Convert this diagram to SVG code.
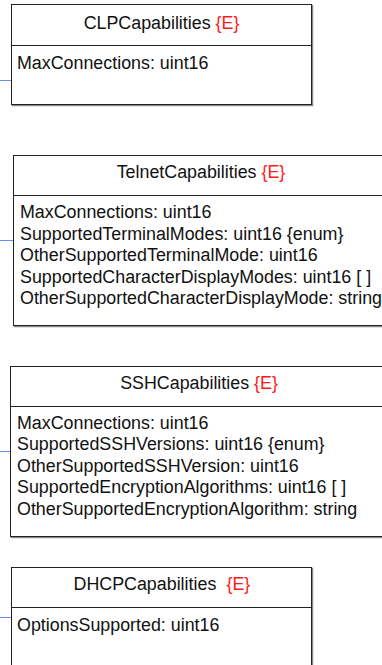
<svg xmlns="http://www.w3.org/2000/svg" width="382" height="665" viewBox="0 0 382 665">
<style>
.shadow{fill:none;stroke:#8a8a8a;stroke-width:1.5}
.box{fill:#fff;stroke:#222;stroke-width:1}
.div{stroke:#222;stroke-width:1}
text{font-family:"Liberation Sans",Arial,sans-serif;font-size:17.85px;fill:#111}
.t{text-anchor:middle}
.e{fill:#ff1a1a}
.conn{stroke:#6a8ef0;stroke-width:1;fill:none}
</style>
<rect width="382" height="665" fill="#fff"/>
<g id="connectors">
<line class="conn" x1="0" y1="80.5" x2="11" y2="80.5"/>
<line class="conn" x1="0" y1="240.5" x2="13" y2="240.5"/>
<line class="conn" x1="0" y1="451.5" x2="10" y2="451.5"/>
<line class="conn" x1="0" y1="617.5" x2="11" y2="617.5"/>
</g>
<g id="CLPCapabilities">
<rect class="shadow" x="12.5" y="5.5" width="300" height="100"/>
<rect class="box" x="11.5" y="4.5" width="300" height="100"/>
<line class="div" x1="11.5" y1="45.5" x2="311.5" y2="45.5"/>
<text class="t" x="161.5" y="28.5">CLPCapabilities <tspan class="e">{E}</tspan></text>
<text x="17" y="68.5">MaxConnections: uint16</text>
</g>
<g id="TelnetCapabilities">
<rect class="shadow" x="14.5" y="156.5" width="376" height="170"/>
<rect class="box" x="13.5" y="155.5" width="376" height="170"/>
<line class="div" x1="13.5" y1="195.5" x2="389.5" y2="195.5"/>
<text class="t" x="201" y="178">TelnetCapabilities <tspan class="e">{E}</tspan></text>
<text x="20" y="218">MaxConnections: uint16</text>
<text x="20" y="239.5">SupportedTerminalModes: uint16 {enum}</text>
<text x="20" y="261">OtherSupportedTerminalMode: uint16</text>
<text x="20" y="282.5">SupportedCharacterDisplayModes: uint16 [ ]</text>
<text x="20" y="304">OtherSupportedCharacterDisplayMode: string</text>
</g>
<g id="SSHCapabilities">
<rect class="shadow" x="11.5" y="367.5" width="376" height="170"/>
<rect class="box" x="10.5" y="366.5" width="376" height="170"/>
<line class="div" x1="10.5" y1="406.5" x2="386.5" y2="406.5"/>
<text class="t" x="199" y="389">SSHCapabilities <tspan class="e">{E}</tspan></text>
<text x="17" y="428.5">MaxConnections: uint16</text>
<text x="17" y="450">SupportedSSHVersions: uint16 {enum}</text>
<text x="17" y="471.5">OtherSupportedSSHVersion: uint16</text>
<text x="17" y="493">SupportedEncryptionAlgorithms: uint16 [ ]</text>
<text x="17" y="514.5">OtherSupportedEncryptionAlgorithm: string</text>
</g>
<g id="DHCPCapabilities">
<rect class="shadow" x="12.5" y="568.5" width="300" height="110"/>
<rect class="box" x="11.5" y="567.5" width="300" height="110"/>
<line class="div" x1="11.5" y1="607.5" x2="311.5" y2="607.5"/>
<text x="73.5" y="590">DHCPCapabilities</text>
<text class="e" x="226.5" y="590">{E}</text>
<text x="17" y="630.5">OptionsSupported: uint16</text>
</g>
</svg>
